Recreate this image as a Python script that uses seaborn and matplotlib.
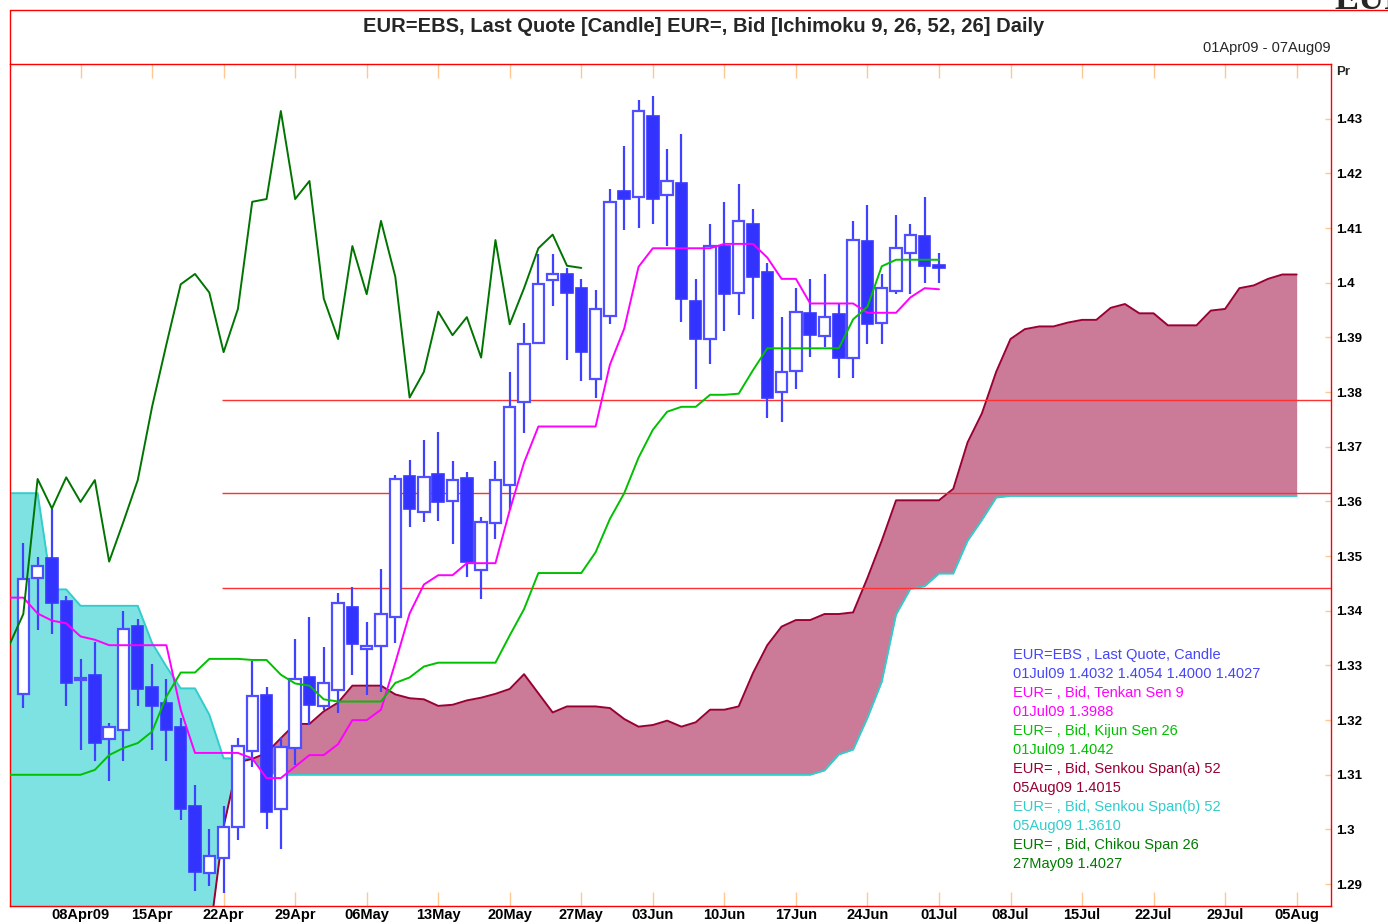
import numpy as np
import pandas as pd
import matplotlib
matplotlib.use("Agg")
import matplotlib.pyplot as plt
import seaborn as sns
from matplotlib.lines import Line2D
from matplotlib.ticker import FuncFormatter

sns.set_theme(style="white")
plt.rcParams['font.family'] = ['Liberation Sans', 'DejaVu Sans']

# --- данные (индекс = номер рабочего дня от 01Apr09) ---
candle_idx = list(range(1, 66))
opens = [1.3248, 1.3459, 1.3496, 1.3418, 1.3273, 1.3283, 1.3166, 1.3181, 1.3372, 1.3260,
         1.3231, 1.3188, 1.3042, 1.2920, 1.2948, 1.3005, 1.3144, 1.3245, 1.3038, 1.3149,
         1.3278, 1.3226, 1.3255, 1.3406, 1.3330, 1.3336, 1.3389, 1.3647, 1.3580, 1.3650,
         1.3601, 1.3642, 1.3475, 1.3561, 1.3630, 1.3782, 1.3890, 1.4005, 1.4016, 1.3990,
         1.3823, 1.3939, 1.4168, 1.4157, 1.4305, 1.4160, 1.4183, 1.3967, 1.3897, 1.4067,
         1.3982, 1.4108, 1.4019, 1.3801, 1.3838, 1.3945, 1.3903, 1.3942, 1.3863, 1.4076,
         1.3927, 1.3985, 1.4055, 1.4086, 1.4032]
highs = [1.3524, 1.3498, 1.3586, 1.3427, 1.3312, 1.3342, 1.3194, 1.3400, 1.3385, 1.3303,
         1.3275, 1.3203, 1.3082, 1.3001, 1.3042, 1.3167, 1.3309, 1.3260, 1.3170, 1.3348,
         1.3389, 1.3333, 1.3432, 1.3444, 1.3380, 1.3476, 1.3648, 1.3676, 1.3712, 1.3727,
         1.3673, 1.3654, 1.3571, 1.3673, 1.3836, 1.3927, 1.4052, 1.4052, 1.4026, 1.4007,
         1.3986, 1.4171, 1.4250, 1.4334, 1.4342, 1.4244, 1.4272, 1.4007, 1.4107, 1.4148,
         1.4180, 1.4134, 1.4036, 1.3938, 1.3990, 1.4007, 1.4016, 1.3962, 1.4113, 1.4143,
         1.4016, 1.4124, 1.4107, 1.4156, 1.4054]
lows = [1.3222, 1.3364, 1.3357, 1.3225, 1.3146, 1.3125, 1.3089, 1.3125, 1.3225, 1.3146,
        1.3125, 1.3018, 1.2888, 1.2896, 1.2884, 1.2980, 1.3114, 1.3001, 1.2965, 1.3118,
        1.3191, 1.3219, 1.3213, 1.3283, 1.3246, 1.3252, 1.3341, 1.3554, 1.3563, 1.3565,
        1.3523, 1.3461, 1.3421, 1.3531, 1.3584, 1.3726, 1.3888, 1.3957, 1.3859, 1.3820,
        1.3790, 1.3924, 1.4097, 1.4100, 1.4107, 1.4067, 1.3929, 1.3805, 1.3852, 1.3912,
        1.3941, 1.3933, 1.3753, 1.3746, 1.3805, 1.3865, 1.3883, 1.3825, 1.3825, 1.3888,
        1.3888, 1.3980, 1.3980, 1.3999, 1.4000]
closes = [1.3458, 1.3482, 1.3414, 1.3268, 1.3277, 1.3158, 1.3188, 1.3367, 1.3257, 1.3225,
          1.3181, 1.3037, 1.2923, 1.2952, 1.3005, 1.3152, 1.3245, 1.3032, 1.3150, 1.3275,
          1.3228, 1.3267, 1.3414, 1.3339, 1.3336, 1.3394, 1.3641, 1.3587, 1.3644, 1.3599,
          1.3639, 1.3490, 1.3563, 1.3639, 1.3773, 1.3887, 1.3997, 1.4016, 1.3982, 1.3873,
          1.3952, 1.4148, 1.4153, 1.4314, 1.4153, 1.4186, 1.3971, 1.3897, 1.4067, 1.3979,
          1.4113, 1.4011, 1.3790, 1.3837, 1.3947, 1.3904, 1.3937, 1.3863, 1.4078, 1.3924,
          1.3990, 1.4063, 1.4088, 1.4031, 1.4027]

line_idx = list(range(0, 66))
tenkan = [1.3424, 1.3424, 1.3395, 1.3382, 1.3377, 1.3353, 1.3347, 1.3337, 1.3337, 1.3337,
          1.3337, 1.3337, 1.3219, 1.3140, 1.3140, 1.3140, 1.3140, 1.3130, 1.3094, 1.3094,
          1.3115, 1.3136, 1.3136, 1.3156, 1.3200, 1.3200, 1.3219, 1.3305, 1.3395, 1.3448,
          1.3465, 1.3465, 1.3487, 1.3487, 1.3487, 1.3584, 1.3671, 1.3737, 1.3737, 1.3737,
          1.3737, 1.3737, 1.3850, 1.3916, 1.4029, 1.4063, 1.4063, 1.4063, 1.4063, 1.4063,
          1.4071, 1.4071, 1.4071, 1.4046, 1.4007, 1.4007, 1.3962, 1.3962, 1.3962, 1.3962,
          1.3945, 1.3945, 1.3945, 1.3973, 1.3990, 1.3988]
kijun = [1.3100, 1.3100, 1.3100, 1.3100, 1.3100, 1.3100, 1.3109, 1.3136, 1.3149, 1.3158,
         1.3179, 1.3243, 1.3287, 1.3287, 1.3312, 1.3312, 1.3312, 1.3310, 1.3310, 1.3283,
         1.3267, 1.3263, 1.3238, 1.3234, 1.3234, 1.3234, 1.3234, 1.3268, 1.3278, 1.3298,
         1.3305, 1.3305, 1.3305, 1.3305, 1.3305, 1.3355, 1.3403, 1.3469, 1.3469, 1.3469,
         1.3469, 1.3507, 1.3568, 1.3615, 1.3680, 1.3731, 1.3764, 1.3773, 1.3773, 1.3795,
         1.3795, 1.3797, 1.3840, 1.3880, 1.3880, 1.3880, 1.3880, 1.3880, 1.3880, 1.3933,
         1.3956, 1.4030, 1.4042, 1.4042, 1.4042, 1.4042]

chikou_idx = list(range(0, 41))
chikou = [1.3336, 1.3394, 1.3641, 1.3587, 1.3644, 1.3599, 1.3639, 1.3490, 1.3563, 1.3639,
          1.3773, 1.3887, 1.3997, 1.4016, 1.3982, 1.3873, 1.3952, 1.4148, 1.4153, 1.4314,
          1.4153, 1.4186, 1.3971, 1.3897, 1.4067, 1.3979, 1.4113, 1.4011, 1.3790, 1.3837,
          1.3947, 1.3904, 1.3937, 1.3863, 1.4078, 1.3924, 1.3990, 1.4063, 1.4088, 1.4031,
          1.4027]

span_idx = list(range(0, 91))
span_b = [1.3615, 1.3615, 1.3615, 1.3439, 1.3439, 1.3409, 1.3409, 1.3409, 1.3409, 1.3409,
          1.3341, 1.3298, 1.3258, 1.3258, 1.3210, 1.3130, 1.3130, 1.3129, 1.3105] + \
         [1.3100] * 38 + \
         [1.3108, 1.3137, 1.3146, 1.3204, 1.3270, 1.3393, 1.3440, 1.3445, 1.3468, 1.3468,
          1.3528, 1.3566, 1.3607] + [1.3610] * 21
# Senkou A: до индекса 14 ниже нижней границы графика (не видна)
span_a = [np.nan] * 14 + \
         [1.2800, 1.3005, 1.3123, 1.3129, 1.3140, 1.3167, 1.3193, 1.3193, 1.3216, 1.3232,
          1.3263, 1.3263, 1.3263, 1.3247, 1.3240, 1.3238, 1.3226, 1.3228, 1.3236, 1.3241,
          1.3248, 1.3257, 1.3284, 1.3249, 1.3214, 1.3225, 1.3225, 1.3225, 1.3222, 1.3202,
          1.3188, 1.3191, 1.3199, 1.3188, 1.3196, 1.3219, 1.3219, 1.3225, 1.3286, 1.3337,
          1.3371, 1.3383, 1.3383, 1.3394, 1.3394, 1.3397, 1.3460, 1.3528, 1.3602, 1.3602,
          1.3602, 1.3602, 1.3623, 1.3708, 1.3761, 1.3837, 1.3897, 1.3915, 1.3920, 1.3920,
          1.3927, 1.3932, 1.3932, 1.3954, 1.3961, 1.3944, 1.3944, 1.3922, 1.3922, 1.3922,
          1.3949, 1.3952, 1.3990, 1.3995, 1.4007, 1.4015, 1.4015]

levels = [1.3786, 1.3616, 1.3442]

tick_idx = list(range(5, 91, 5))
tick_labels = ['08Apr09', '15Apr', '22Apr', '29Apr', '06May', '13May', '20May', '27May',
               '03Jun', '10Jun', '17Jun', '24Jun', '01Jul', '08Jul', '15Jul', '22Jul',
               '29Jul', '05Aug']
price_ticks = [1.29, 1.30, 1.31, 1.32, 1.33, 1.34, 1.35, 1.36, 1.37, 1.38, 1.39,
               1.40, 1.41, 1.42, 1.43]

legend_lines = [
    ("EUR=EBS , Last Quote, Candle", '#4646F5'),
    ("01Jul09 1.4032 1.4054 1.4000 1.4027", '#4646F5'),
    ("EUR= , Bid, Tenkan Sen 9", '#FF00FF'),
    ("01Jul09 1.3988", '#FF00FF'),
    ("EUR= , Bid, Kijun Sen 26", '#00C000'),
    ("01Jul09 1.4042", '#00C000'),
    ("EUR= , Bid, Senkou Span(a) 52", '#990033'),
    ("05Aug09 1.4015", '#990033'),
    ("EUR= , Bid, Senkou Span(b) 52", '#33CCCC'),
    ("05Aug09 1.3610", '#33CCCC'),
    ("EUR= , Bid, Chikou Span 26", '#007A00'),
    ("27May09 1.4027", '#007A00'),
]

W, H = 1388, 924
fig = plt.figure(figsize=(W / 100, H / 100), dpi=100)
ax = fig.add_axes([10 / W, (H - 906) / H, (1331 - 10) / W, (906 - 64) / H])
ax.set_facecolor('white')

# облако
cloud = pd.DataFrame({'x': span_idx, 'a': span_a, 'b': span_b})
a_fill = cloud['a'].fillna(1.20).to_numpy()
b_arr = cloud['b'].to_numpy()
ax.fill_between(cloud['x'], a_fill, b_arr, where=b_arr >= a_fill, interpolate=True,
                color='#7EE2E2', lw=0, zorder=1)
ax.fill_between(cloud['x'], a_fill, b_arr, where=a_fill >= b_arr, interpolate=True,
                color='#CB7B98', lw=0, zorder=1)
sns.lineplot(x=cloud['x'], y=cloud['b'], ax=ax, color='#33CCCC', lw=1.4,
             estimator=None, zorder=2)
sns.lineplot(data=cloud.dropna(), x='x', y='a', ax=ax, color='#990033', lw=1.4,
             estimator=None, zorder=2)

# красные уровни
ax.hlines(levels, 14.9, 93, color='#FF3030', lw=1.0, zorder=2.5)

# свечи
df = pd.DataFrame({'x': candle_idx, 'o': opens, 'h': highs, 'l': lows, 'c': closes})
up = df[df.c >= df.o]
dn = df[df.c < df.o]
ax.vlines(df.x, df.l, df.h, color='#4040FF', lw=1.6, zorder=3)
ax.bar(up.x, up.c - up.o, bottom=up.o, width=0.8, color='white',
       edgecolor='#4F4FFF', linewidth=1.6, zorder=4)
ax.bar(dn.x, dn.o - dn.c, bottom=dn.c, width=0.8, color='#3333FF',
       edgecolor='#3838FF', linewidth=1.2, zorder=4)

# линии Ишимоку
lines = pd.DataFrame({'x': line_idx, 'tenkan': tenkan, 'kijun': kijun})
sns.lineplot(data=lines, x='x', y='tenkan', ax=ax, color='#FF00FF', lw=1.4,
             estimator=None, zorder=5)
sns.lineplot(data=lines, x='x', y='kijun', ax=ax, color='#00C000', lw=1.4,
             estimator=None, zorder=5)
sns.lineplot(x=chikou_idx, y=chikou, ax=ax, color='#007400', lw=1.4,
             estimator=None, zorder=5)

ax.set_xlim(0.07, 92.4)
ax.set_ylim(1.2860, 1.4400)
ax.set_xlabel('')
ax.set_ylabel('')

ax.set_xticks(tick_idx)
ax.set_xticklabels(tick_labels, fontweight='bold', fontsize=10.5)
ax.tick_params(axis='x', direction='in', length=10, width=1, color='#FFC890',
               top=True, bottom=True, pad=1.5, labelcolor='black')
ax.yaxis.tick_right()
ax.set_yticks(price_ticks)
ax.yaxis.set_major_formatter(FuncFormatter(lambda v, p: f"{round(v, 2):g}"))
ax.tick_params(axis='y', direction='in', length=4, width=1, color='#FFC890',
               left=False, right=True, labelleft=False, labelright=True,
               pad=3.5, labelsize=9.5, labelcolor='black')
for lab in ax.get_yticklabels():
    lab.set_fontweight('bold')
for s in ax.spines.values():
    s.set_color('#FF0000')
    s.set_linewidth(1.0)
    s.set_visible(True)

# легенда текстом
for k, (txt, col) in enumerate(legend_lines):
    fig.text(1013 / W, 1 - (655 + 19 * k) / H, txt, color=col, fontsize=10.5,
             ha='left', va='center')

# заголовок и рамка
fig.text(703.5 / W, 1 - 27 / H,
         "EUR=EBS, Last Quote [Candle] EUR=, Bid [Ichimoku 9, 26, 52, 26] Daily",
         ha='center', va='center', fontsize=14.5, fontweight='bold')
fig.text(1331 / W, 1 - 48 / H, "01Apr09 - 07Aug09", ha='right', va='center',
         fontsize=10.5)
fig.text(1336 / W, 1 - 72 / H, "Pr", ha='left', va='center', fontsize=9.5,
         fontweight='bold')
fig.text(1334 / W, 1 - 9 / H, "EUR", ha='left', va='baseline', fontsize=26,
         fontweight='bold', family=['Liberation Serif', 'DejaVu Serif'])
fig.add_artist(Line2D([10 / W, 1], [1 - 10 / H] * 2, transform=fig.transFigure,
                      color='#FF0000', lw=1.0))
fig.add_artist(Line2D([10 / W] * 2, [1 - 10 / H, 1 - 64 / H], transform=fig.transFigure,
                      color='#FF0000', lw=1.0))

fig.savefig("out.png", dpi=100)
